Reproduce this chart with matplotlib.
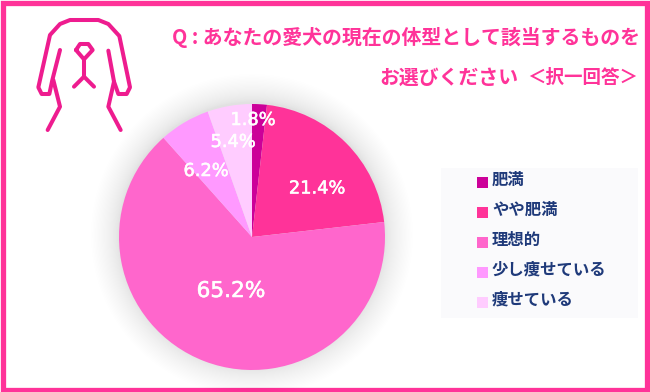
# -*- coding: utf-8 -*-
import matplotlib
matplotlib.use('Agg')
import matplotlib.pyplot as plt
import matplotlib.patheffects as pe
from matplotlib.patches import Circle, Rectangle

plt.rcParams['font.family'] = ['Noto Sans CJK JP', 'DejaVu Sans']

categories = ['肥満', 'やや肥満', '理想的', '少し痩せている', '痩せている']
values = [1.8, 21.4, 65.2, 6.2, 5.4]
colors = ['#CC0099', '#FF3399', '#FF66CC', '#FF99FF', '#FFCCFF']
title1 = 'Q : あなたの愛犬の現在の体型として該当するものを'
title2 = 'お選びください'
title3 = '＜択一回答＞'

W, H = 650, 392
fig = plt.figure(figsize=(W / 100, H / 100), dpi=100)

# background axes in image pixels, y going down
bg = fig.add_axes([0, 0, 1, 1])
bg.set_xlim(0, W)
bg.set_ylim(H, 0)
bg.axis('off')

# border
bg.add_patch(Rectangle((2.5, 2.5), W - 5.5, H - 5, fill=False, ec='#FF3399', lw=3.8))

# soft shadow under the pie
cx, cy, r = 252, 237, 133
n = 30
for i in range(n):
    bg.add_patch(Circle((cx, cy - 2), r + 28 * ((n - i) / n) ** 1.6, color='black', alpha=0.0045, lw=0))

# dog icon
icon = '#EE1C8F'
def line(pts):
    xs = [p[0] / 3 for p in pts]
    ys = [p[1] / 3 for p in pts]
    bg.plot(xs, ys, color=icon, lw=2.9, solid_joinstyle='round', solid_capstyle='round')

line([(180, 150), (157, 240), (148, 282), (125, 282), (115, 262), (150, 105), (180, 72),
      (210, 60), (295, 60), (325, 72), (358, 108), (390, 262), (380, 282), (355, 282),
      (342, 245), (325, 152)])
line([(160, 240), (180, 320), (143, 390)])
line([(342, 245), (325, 320), (362, 390)])
line([(228, 150), (240, 132), (265, 132), (278, 150), (252, 178), (228, 150)])
line([(252, 178), (252, 230)])
line([(222, 260), (252, 230), (282, 260)])

# title
bg.text(172, 37.5, title1, color='#FF3399', fontsize=14.35, fontweight='bold', ha='left', va='center')
bg.text(379, 77, title2, color='#FF3399', fontsize=14.3, fontweight='bold', ha='left', va='center')
bg.text(638, 77, title3, color='#FF3399', fontsize=13.3, fontweight='bold', ha='right', va='center')

# legend panel
bg.add_patch(Rectangle((441, 168), 197, 150, color='#FAFAFC', lw=0))
for i, (name, c) in enumerate(zip(categories, colors)):
    y = 182.5 + 30 * i
    bg.add_patch(Rectangle((476.5, y - 5.5), 11, 11, color=c, lw=0))
    bg.text(492, y - 2.5, name, color='#1F3A7A', fontsize=11.8, fontweight='bold', ha='left', va='center')

# pie
ax = fig.add_axes([(cx - r) / W, 1 - (cy + r) / H, 2 * r / W, 2 * r / H])
wedges, _ = ax.pie(values, colors=colors, startangle=90, counterclock=False, radius=1)
ax.set_xlim(-1, 1)
ax.set_ylim(-1, 1)

# percent labels, placed in pixels like the original
label_xy = [(253, 120), (317, 188.5), (231, 291), (206, 171), (233, 142)]
sizes = [12.8, 12.8, 15.6, 12.8, 12.8]
for v, (x, y), s in zip(values, label_xy, sizes):
    t = ax.text((x - cx) / r, (cy - y) / r, '%.1f%%' % v, color='white', fontsize=s,
                family='DejaVu Sans', ha='center', va='center', clip_on=False)
    t.set_path_effects([pe.withStroke(linewidth=0.4, foreground='white')])

fig.savefig('out.png', dpi=100)
